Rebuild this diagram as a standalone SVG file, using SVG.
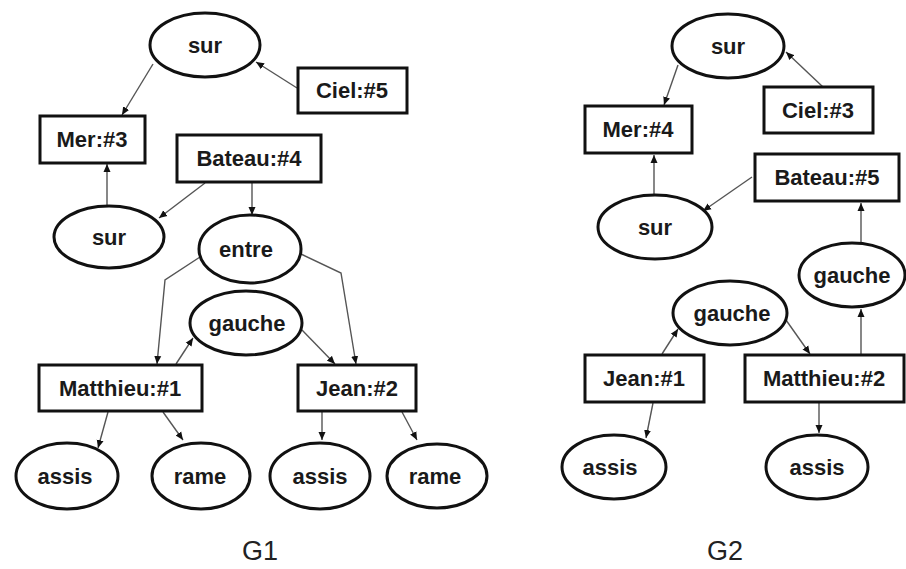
<svg xmlns="http://www.w3.org/2000/svg" width="906" height="569" viewBox="0 0 906 569">
<defs>
<marker id="ah" markerUnits="userSpaceOnUse" markerWidth="9" markerHeight="8" refX="8" refY="4" orient="auto">
<path d="M0,0.5 L8,4 L0,7.5 z" fill="#111"/>
</marker>
<style>
.n rect,.n ellipse{fill:#fff;stroke:#111;stroke-width:3}
.n text{font-family:"Liberation Sans",Arial,sans-serif;font-weight:bold;font-size:22px;fill:#1a1a1a;text-anchor:middle}
.e line,.e polyline{fill:none;stroke:#555;stroke-width:1.4;marker-end:url(#ah)}
.lbl{font-family:"Liberation Sans",Arial,sans-serif;font-size:27px;fill:#222;text-anchor:middle}
</style>
</defs>
<rect width="906" height="569" fill="#fff"/>
<g class="e" id="connectors">
<!-- G1 -->
<line x1="153" y1="64" x2="122" y2="115"/>
<line x1="297" y1="88" x2="256" y2="62"/>
<line x1="107" y1="205" x2="107" y2="164"/>
<line x1="205" y1="183" x2="159" y2="218"/>
<line x1="252" y1="183" x2="252" y2="215"/>
<polyline points="200,257 165,280 157,364"/>
<polyline points="301,254 341,273 356,364"/>
<line x1="176" y1="364" x2="193" y2="338"/>
<line x1="302" y1="330" x2="335" y2="364"/>
<line x1="108" y1="412" x2="98" y2="448"/>
<line x1="163" y1="412" x2="183" y2="440"/>
<line x1="322" y1="412" x2="322" y2="440"/>
<line x1="402" y1="412" x2="417" y2="440"/>
<!-- G2 -->
<line x1="678" y1="65" x2="664" y2="105"/>
<line x1="823" y1="87" x2="786" y2="52"/>
<line x1="654" y1="195" x2="654" y2="155"/>
<line x1="752" y1="177" x2="703" y2="211"/>
<line x1="861" y1="242" x2="861" y2="203"/>
<line x1="662" y1="354" x2="678" y2="329"/>
<line x1="786" y1="320" x2="810" y2="354"/>
<line x1="861" y1="354" x2="861" y2="309"/>
<line x1="653" y1="403" x2="646" y2="438"/>
<line x1="819" y1="403" x2="819" y2="433"/>
</g>
<!-- G1 nodes -->
<g class="n" id="g1-sur-top"><ellipse cx="205" cy="45" rx="55" ry="32"/><text x="205" y="53">sur</text></g>
<g class="n" id="g1-ciel"><rect x="298" y="68" width="109" height="45"/><text x="352" y="98">Ciel:#5</text></g>
<g class="n" id="g1-mer"><rect x="40" y="116" width="105" height="47"/><text x="92" y="147">Mer:#3</text></g>
<g class="n" id="g1-bateau"><rect x="177" y="135" width="144" height="47"/><text x="249" y="166">Bateau:#4</text></g>
<g class="n" id="g1-sur-low"><ellipse cx="109" cy="237" rx="55" ry="31"/><text x="109" y="245">sur</text></g>
<g class="n" id="g1-entre"><ellipse cx="250" cy="249" rx="51" ry="34"/><text x="246" y="257">entre</text></g>
<g class="n" id="g1-gauche"><ellipse cx="246" cy="323" rx="56" ry="32"/><text x="247" y="331">gauche</text></g>
<g class="n" id="g1-matthieu"><rect x="39" y="365" width="163" height="46"/><text x="120" y="396">Matthieu:#1</text></g>
<g class="n" id="g1-jean"><rect x="298" y="365" width="118" height="46"/><text x="357" y="396">Jean:#2</text></g>
<g class="n" id="g1-assis1"><ellipse cx="67" cy="476" rx="51" ry="33"/><text x="65" y="484">assis</text></g>
<g class="n" id="g1-rame1"><ellipse cx="201" cy="476" rx="49" ry="33"/><text x="200" y="484">rame</text></g>
<g class="n" id="g1-assis2"><ellipse cx="320" cy="476" rx="50" ry="33"/><text x="320" y="484">assis</text></g>
<g class="n" id="g1-rame2"><ellipse cx="437" cy="476" rx="50" ry="32"/><text x="435" y="484">rame</text></g>
<!-- G2 nodes -->
<g class="n" id="g2-sur-top"><ellipse cx="728" cy="46" rx="56" ry="32"/><text x="728" y="54">sur</text></g>
<g class="n" id="g2-ciel"><rect x="764" y="87" width="109" height="46"/><text x="818" y="118">Ciel:#3</text></g>
<g class="n" id="g2-mer"><rect x="585" y="106" width="107" height="47"/><text x="638" y="137">Mer:#4</text></g>
<g class="n" id="g2-bateau"><rect x="755" y="154" width="144" height="47"/><text x="827" y="185">Bateau:#5</text></g>
<g class="n" id="g2-sur-low"><ellipse cx="655" cy="227" rx="57" ry="32"/><text x="655" y="235">sur</text></g>
<g class="n" id="g2-gauche-r"><ellipse cx="852" cy="275" rx="53" ry="32"/><text x="852" y="283">gauche</text></g>
<g class="n" id="g2-gauche-m"><ellipse cx="730" cy="313" rx="57" ry="32"/><text x="732" y="321">gauche</text></g>
<g class="n" id="g2-jean"><rect x="585" y="355" width="119" height="47"/><text x="644" y="386">Jean:#1</text></g>
<g class="n" id="g2-matthieu"><rect x="745" y="355" width="159" height="47"/><text x="824" y="386">Matthieu:#2</text></g>
<g class="n" id="g2-assis-l"><ellipse cx="614" cy="467" rx="52" ry="32"/><text x="610" y="475">assis</text></g>
<g class="n" id="g2-assis-r"><ellipse cx="817" cy="467" rx="51" ry="32"/><text x="817" y="475">assis</text></g>
<text class="lbl" x="260" y="560">G1</text>
<text class="lbl" x="725" y="560">G2</text>
</svg>
